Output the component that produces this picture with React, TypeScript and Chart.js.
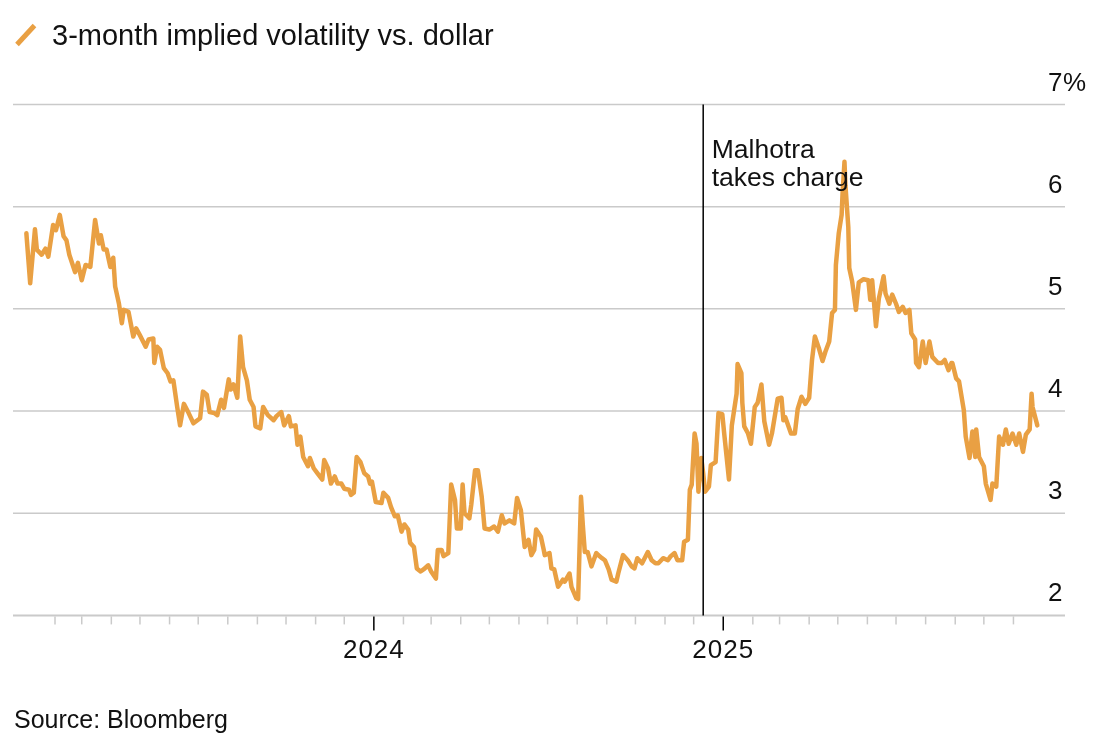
import { useEffect, useRef } from "react";
import { Chart, registerables } from "chart.js";

Chart.register(...registerables);

// 3-month implied volatility of the rupee vs. the dollar (%)
const dates: string[] = [
  "2023-01-02", "2023-01-06", "2023-01-11", "2023-01-13", "2023-01-18", "2023-01-22", "2023-01-25", "2023-01-30",
  "2023-02-02", "2023-02-06", "2023-02-10", "2023-02-13", "2023-02-16", "2023-02-22", "2023-02-25",
  "2023-03-01", "2023-03-05", "2023-03-10", "2023-03-15", "2023-03-19", "2023-03-21", "2023-03-24", "2023-03-27", "2023-03-31",
  "2023-04-03", "2023-04-05", "2023-04-09", "2023-04-12", "2023-04-14", "2023-04-19", "2023-04-24", "2023-04-27",
  "2023-05-01", "2023-05-07", "2023-05-10", "2023-05-15", "2023-05-16", "2023-05-19", "2023-05-22", "2023-05-26", "2023-05-30",
  "2023-06-02", "2023-06-05", "2023-06-09", "2023-06-12", "2023-06-16", "2023-06-21", "2023-06-26",
  "2023-07-03", "2023-07-06", "2023-07-10", "2023-07-13", "2023-07-18", "2023-07-21", "2023-07-25", "2023-07-28",
  "2023-08-02", "2023-08-04", "2023-08-07", "2023-08-11", "2023-08-14", "2023-08-17", "2023-08-21", "2023-08-24", "2023-08-28", "2023-08-30",
  "2023-09-04", "2023-09-07", "2023-09-12", "2023-09-18", "2023-09-21", "2023-09-26", "2023-09-29",
  "2023-10-04", "2023-10-06", "2023-10-11", "2023-10-13", "2023-10-16", "2023-10-19", "2023-10-24", "2023-10-26", "2023-10-30",
  "2023-11-03", "2023-11-08", "2023-11-10", "2023-11-14", "2023-11-17", "2023-11-21", "2023-11-24", "2023-11-28",
  "2023-12-01", "2023-12-06", "2023-12-08", "2023-12-11", "2023-12-14", "2023-12-18", "2023-12-22", "2023-12-26", "2023-12-28", "2023-12-30",
  "2024-01-03", "2024-01-09", "2024-01-11", "2024-01-16", "2024-01-19", "2024-01-23", "2024-01-26", "2024-01-30",
  "2024-02-02", "2024-02-06", "2024-02-08", "2024-02-12", "2024-02-15", "2024-02-19", "2024-02-22", "2024-02-27",
  "2024-03-01", "2024-03-06", "2024-03-08", "2024-03-12", "2024-03-14", "2024-03-19", "2024-03-22", "2024-03-26", "2024-03-28",
  "2024-04-01", "2024-04-03", "2024-04-05", "2024-04-10", "2024-04-12", "2024-04-16", "2024-04-19", "2024-04-23", "2024-04-26",
  "2024-05-01", "2024-05-06", "2024-05-10", "2024-05-14", "2024-05-17", "2024-05-22", "2024-05-27", "2024-05-30",
  "2024-06-03", "2024-06-07", "2024-06-11", "2024-06-14", "2024-06-17", "2024-06-19", "2024-06-24", "2024-06-27", "2024-06-28",
  "2024-07-03", "2024-07-05", "2024-07-08", "2024-07-12", "2024-07-17", "2024-07-19", "2024-07-24", "2024-07-26", "2024-07-31",
  "2024-08-02", "2024-08-05", "2024-08-07", "2024-08-09", "2024-08-12", "2024-08-16", "2024-08-21", "2024-08-23", "2024-08-27", "2024-08-30",
  "2024-09-03", "2024-09-06", "2024-09-11", "2024-09-13", "2024-09-18", "2024-09-23", "2024-09-27", "2024-09-30",
  "2024-10-03", "2024-10-08", "2024-10-14", "2024-10-18", "2024-10-22", "2024-10-25", "2024-10-30",
  "2024-11-04", "2024-11-07", "2024-11-11", "2024-11-14", "2024-11-19", "2024-11-21", "2024-11-25", "2024-11-27", "2024-11-29",
  "2024-12-02", "2024-12-04", "2024-12-06", "2024-12-09", "2024-12-11", "2024-12-13", "2024-12-17", "2024-12-19", "2024-12-24", "2024-12-27", "2024-12-31",
  "2025-01-02", "2025-01-07", "2025-01-10", "2025-01-15", "2025-01-16", "2025-01-20", "2025-01-21", "2025-01-23", "2025-01-27", "2025-01-30",
  "2025-02-03", "2025-02-06", "2025-02-10", "2025-02-13", "2025-02-18", "2025-02-21", "2025-02-27",
  "2025-03-03", "2025-03-05", "2025-03-07", "2025-03-13", "2025-03-17", "2025-03-20", "2025-03-24", "2025-03-28",
  "2025-04-01", "2025-04-04", "2025-04-07", "2025-04-11", "2025-04-15", "2025-04-18", "2025-04-22", "2025-04-25", "2025-04-28", "2025-04-29",
  "2025-05-02", "2025-05-05", "2025-05-06", "2025-05-08", "2025-05-09", "2025-05-12", "2025-05-13", "2025-05-16", "2025-05-20", "2025-05-23", "2025-05-28",
  "2025-06-02", "2025-06-04", "2025-06-06", "2025-06-10", "2025-06-13", "2025-06-18", "2025-06-20", "2025-06-24", "2025-06-27",
  "2025-07-01", "2025-07-04", "2025-07-08", "2025-07-11", "2025-07-15", "2025-07-17", "2025-07-21", "2025-07-22", "2025-07-25", "2025-07-29",
  "2025-08-01", "2025-08-05", "2025-08-08", "2025-08-14", "2025-08-18", "2025-08-21", "2025-08-25", "2025-08-28", "2025-08-29",
  "2025-09-02", "2025-09-05", "2025-09-10", "2025-09-12", "2025-09-16", "2025-09-19", "2025-09-22", "2025-09-23", "2025-09-26",
  "2025-10-01", "2025-10-03", "2025-10-08", "2025-10-10", "2025-10-14", "2025-10-17", "2025-10-21", "2025-10-24", "2025-10-27", "2025-10-31",
  "2025-11-04", "2025-11-07", "2025-11-11", "2025-11-14", "2025-11-18", "2025-11-20", "2025-11-21", "2025-11-26",
];

const vol: number[] = [
  5.74, 5.25, 5.78, 5.58, 5.53, 5.59, 5.51, 5.82,
  5.77, 5.92, 5.71, 5.67, 5.53, 5.36, 5.45,
  5.28, 5.43, 5.41, 5.87, 5.64, 5.72, 5.58, 5.58, 5.41,
  5.5, 5.22, 5.05, 4.86, 4.99, 4.97, 4.73, 4.81,
  4.74, 4.63, 4.7, 4.71, 4.47, 4.63, 4.6, 4.42, 4.37,
  4.29, 4.3, 4.04, 3.86, 4.07, 3.98, 3.88,
  3.93, 4.19, 4.16, 3.99, 3.98, 3.96, 4.11, 4.03,
  4.31, 4.21, 4.26, 4.13, 4.73, 4.43, 4.3, 4.11, 4.04, 3.85,
  3.83, 4.04, 3.96, 3.91, 3.95, 3.99, 3.86,
  3.95, 3.85, 3.86, 3.67, 3.75, 3.55, 3.46, 3.54, 3.44,
  3.39, 3.33, 3.52, 3.44, 3.29, 3.36, 3.29, 3.29,
  3.24, 3.23, 3.18, 3.2, 3.55, 3.5, 3.39, 3.36, 3.29, 3.31,
  3.11, 3.1, 3.2, 3.15, 3.06, 2.97, 2.98, 2.82,
  2.89, 2.84, 2.71, 2.67, 2.46, 2.43, 2.45, 2.49,
  2.43, 2.36, 2.64, 2.64, 2.58, 2.61, 3.28, 3.13, 2.85,
  2.85, 3.28, 3.0, 2.95, 3.08, 3.42, 3.42, 3.16, 2.85,
  2.84, 2.87, 2.82, 2.98, 2.9, 2.93, 2.9, 3.15,
  3.03, 2.67, 2.74, 2.59, 2.64, 2.84, 2.77, 2.64, 2.59,
  2.61, 2.46, 2.45, 2.28, 2.35, 2.33, 2.41, 2.28, 2.17,
  2.16, 3.16, 2.87, 2.62, 2.62, 2.48, 2.61, 2.59, 2.56, 2.54,
  2.45, 2.35, 2.33, 2.41, 2.59, 2.54, 2.48, 2.46,
  2.56, 2.51, 2.62, 2.54, 2.51, 2.51, 2.56,
  2.54, 2.58, 2.61, 2.54, 2.54, 2.72, 2.74, 3.23, 3.28,
  3.78, 3.68, 3.21, 3.54, 3.39, 3.21, 3.26, 3.47, 3.5, 3.98, 3.97,
  3.78, 3.33, 3.86, 4.17, 4.46, 4.37, 4.08, 3.85, 3.78, 3.68,
  4.04, 4.08, 4.26, 3.9, 3.67, 3.78, 4.12,
  4.13, 3.91, 3.94, 3.78, 3.78, 4.02, 4.14, 4.07,
  4.13, 4.5, 4.73, 4.62, 4.49, 4.58, 4.68, 4.96, 4.99, 5.43,
  5.74, 5.92, 6.13, 6.44, 6.21, 5.8, 5.4, 5.27, 4.99, 5.26, 5.29,
  5.28, 5.09, 5.28, 4.83, 5.1, 5.32, 5.15, 5.05, 5.14,
  5.05, 4.97, 5.02, 4.96, 4.99, 4.76, 4.7, 4.47, 4.43, 4.68,
  4.47, 4.68, 4.53, 4.47, 4.47, 4.5, 4.4, 4.47, 4.47,
  4.32, 4.29, 4.01, 3.75, 3.54, 3.8, 3.55, 3.82, 3.55,
  3.46, 3.29, 3.13, 3.29, 3.26, 3.75, 3.67, 3.82, 3.68, 3.78,
  3.67, 3.78, 3.6, 3.77, 3.82, 4.17, 4.04, 3.86,
];

const yTicks: number[] = [2, 3, 4, 5, 6, 7];
const yTickLabels: string[] = ["2", "3", "4", "5", "6", "7%"];
const yearTicks: string[] = ["2024-01-01", "2025-01-01"];
const yearLabels: string[] = ["2024", "2025"];
const axisRange: string[] = ["2022-12-19", "2025-12-25"];
const eventDate = "2024-12-11";
const eventLabel: string[] = ["Malhotra", "takes charge"];
const title = "3-month implied volatility vs. dollar";
const source = "Source: Bloomberg";

const ORANGE = "#E9A043";
const GRID = "#cacaca";
const INK = "#111111";
const FONT = '"Liberation Sans", Arial, Helvetica, sans-serif';

const toTime = (s: string) => {
  const [y, m, d] = s.split("-").map(Number);
  return Date.UTC(y, m - 1, d);
};

// First day of every month strictly inside the data range
function monthStarts(first: number, last: number): { t: number; jan: boolean }[] {
  const out: { t: number; jan: boolean }[] = [];
  const s = new Date(first);
  let y = s.getUTCFullYear();
  let m = s.getUTCMonth() + 1;
  for (;;) {
    if (m > 11) { m = 0; y += 1; }
    const t = Date.UTC(y, m, 1);
    if (t > last) break;
    out.push({ t, jan: m === 0 });
    m += 1;
  }
  return out;
}

const decor = {
  id: "decor",
  beforeDatasetsDraw(chart: any) {
    const { ctx, chartArea, scales } = chart;
    const x = scales.x;
    const y = scales.y;
    ctx.save();

    // horizontal grid
    for (const v of yTicks) {
      const py = y.getPixelForValue(v);
      ctx.strokeStyle = GRID;
      ctx.lineWidth = v === 2 ? 2 : 1.5;
      ctx.beginPath();
      ctx.moveTo(chartArea.left, py);
      ctx.lineTo(chartArea.right, py);
      ctx.stroke();
    }

    // y labels on the right, above each gridline
    ctx.fillStyle = INK;
    ctx.font = `26px ${FONT}`;
    ctx.textAlign = "left";
    ctx.textBaseline = "alphabetic";
    (ctx as any).letterSpacing = "0.5px";
    yTicks.forEach((v, i) => {
      const py = y.getPixelForValue(v);
      ctx.fillText(yTickLabels[i], 1048, py - 14);
    });

    // month ticks along the bottom axis
    const axisY = y.getPixelForValue(2);
    const first = toTime(dates[0]);
    const last = toTime(dates[dates.length - 1]);
    for (const mt of monthStarts(first, last)) {
      const px = x.getPixelForValue(mt.t);
      ctx.beginPath();
      if (mt.jan) {
        ctx.strokeStyle = "#000000";
        ctx.lineWidth = 1.5;
        ctx.moveTo(px, axisY + 1);
        ctx.lineTo(px, axisY + 15);
      } else {
        ctx.strokeStyle = GRID;
        ctx.lineWidth = 1.5;
        ctx.moveTo(px, axisY + 1);
        ctx.lineTo(px, axisY + 9);
      }
      ctx.stroke();
    }

    // year labels
    ctx.fillStyle = INK;
    ctx.font = `26px ${FONT}`;
    ctx.textAlign = "center";
    (ctx as any).letterSpacing = "1px";
    yearTicks.forEach((d, i) => {
      ctx.fillText(yearLabels[i], x.getPixelForValue(toTime(d)), axisY + 43);
    });
    ctx.restore();
  },
  afterDatasetsDraw(chart: any) {
    const { ctx, scales } = chart;
    const x = scales.x;
    const y = scales.y;
    ctx.save();

    // event marker
    const ex = x.getPixelForValue(toTime(eventDate));
    ctx.strokeStyle = "#000000";
    ctx.lineWidth = 1.5;
    ctx.beginPath();
    ctx.moveTo(ex, y.getPixelForValue(7));
    ctx.lineTo(ex, y.getPixelForValue(2));
    ctx.stroke();

    ctx.fillStyle = INK;
    ctx.font = `26.5px ${FONT}`;
    ctx.textAlign = "left";
    ctx.textBaseline = "alphabetic";
    ctx.fillText(eventLabel[0], ex + 8.5, 157.5);
    ctx.fillText(eventLabel[1], ex + 8.5, 186);

    // legend swatch and title
    ctx.strokeStyle = ORANGE;
    ctx.lineWidth = 5;
    ctx.lineCap = "butt";
    ctx.beginPath();
    ctx.moveTo(17, 44.5);
    ctx.lineTo(34.5, 25.5);
    ctx.stroke();

    ctx.fillStyle = INK;
    ctx.font = `29px ${FONT}`;
    ctx.fillText(title, 52, 45);

    // source note
    ctx.font = `25px ${FONT}`;
    ctx.fillText(source, 14, 728);
    ctx.restore();
  },
};

export default function App() {
  const canvasRef = useRef<HTMLCanvasElement | null>(null);

  useEffect(() => {
    const canvas = canvasRef.current;
    if (!canvas) return;
    const points = dates.map((d, i) => ({ x: toTime(d), y: vol[i] }));
    const chart = new Chart(canvas, {
      type: "line",
      data: {
        datasets: [
          {
            label: title,
            data: points,
            borderColor: ORANGE,
            borderWidth: 4.5,
            pointRadius: 0,
            tension: 0,
            borderJoinStyle: "round",
            borderCapStyle: "round",
            fill: false,
          },
        ],
      },
      options: {
        responsive: false,
        animation: false,
        devicePixelRatio: 1,
        parsing: false,
        normalized: true,
        layout: { padding: { left: 13, right: 29, top: 104.5, bottom: 121.6 } },
        scales: {
          x: {
            type: "linear",
            min: toTime(axisRange[0]),
            max: toTime(axisRange[1]),
            display: false,
          },
          y: { type: "linear", min: 2, max: 7, display: false },
        },
        plugins: {
          legend: { display: false },
          tooltip: { enabled: false },
        },
      },
      plugins: [decor],
    } as any);
    return () => chart.destroy();
  }, []);

  return (
    <div style={{ position: "absolute", left: 0, top: 0, width: 1094, height: 737, background: "#ffffff" }}>
      <canvas ref={canvasRef} width={1094} height={737} style={{ display: "block" }} />
    </div>
  );
}
